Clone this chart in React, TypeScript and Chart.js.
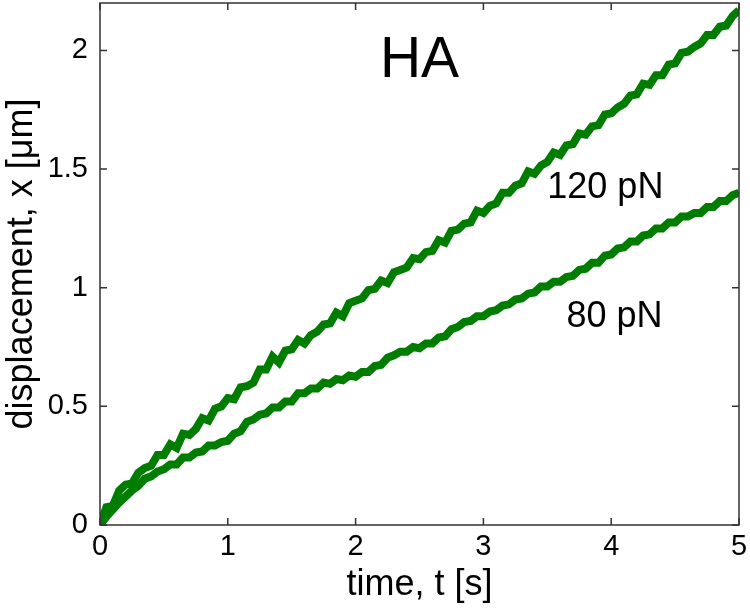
import React, { useEffect, useRef } from "react";
import { Chart, registerables } from "chart.js";

Chart.register(...registerables);

const FONT = "'Liberation Sans', Arial, Helvetica, sans-serif";

// time axis (s)
const timeS = [
  0.0, 0.05, 0.1, 0.15, 0.2, 0.25, 0.3, 0.35, 0.4, 0.45,
  0.5, 0.55, 0.6, 0.65, 0.7, 0.75, 0.8, 0.85, 0.9, 0.95,
  1.0, 1.05, 1.1, 1.15, 1.2, 1.25, 1.3, 1.35, 1.4, 1.45,
  1.5, 1.55, 1.6, 1.65, 1.7, 1.75, 1.8, 1.85, 1.9, 1.95,
  2.0, 2.05, 2.1, 2.15, 2.2, 2.25, 2.3, 2.35, 2.4, 2.45,
  2.5, 2.55, 2.6, 2.65, 2.7, 2.75, 2.8, 2.85, 2.9, 2.95,
  3.0, 3.05, 3.1, 3.15, 3.2, 3.25, 3.3, 3.35, 3.4, 3.45,
  3.5, 3.55, 3.6, 3.65, 3.7, 3.75, 3.8, 3.85, 3.9, 3.95,
  4.0, 4.05, 4.1, 4.15, 4.2, 4.25, 4.3, 4.35, 4.4, 4.45,
  4.5, 4.55, 4.6, 4.65, 4.7, 4.75, 4.8, 4.85, 4.9, 4.95,
  5.0,
];

// displacement (µm) at 120 pN
const disp120 = [
  0.0, 0.075, 0.08, 0.145, 0.17, 0.175, 0.22, 0.24, 0.25, 0.295,
  0.295, 0.34, 0.325, 0.385, 0.38, 0.405, 0.45, 0.44, 0.49, 0.5,
  0.535, 0.53, 0.58, 0.585, 0.6, 0.655, 0.655, 0.71, 0.685, 0.735,
  0.74, 0.78, 0.765, 0.8, 0.815, 0.845, 0.85, 0.895, 0.88, 0.935,
  0.945, 0.955, 0.99, 0.995, 1.03, 1.02, 1.065, 1.075, 1.085, 1.125,
  1.12, 1.15, 1.155, 1.2, 1.19, 1.24, 1.245, 1.27, 1.275, 1.325,
  1.315, 1.345, 1.355, 1.4, 1.4, 1.43, 1.44, 1.49, 1.48, 1.515,
  1.53, 1.57, 1.56, 1.6, 1.605, 1.65, 1.645, 1.68, 1.685, 1.73,
  1.735, 1.76, 1.775, 1.81, 1.815, 1.86, 1.855, 1.895, 1.895, 1.94,
  1.945, 1.99, 1.995, 2.015, 2.03, 2.065, 2.065, 2.1, 2.105, 2.145,
  2.17,
];

// displacement (µm) at 80 pN
const disp80 = [
  0.0, 0.035, 0.065, 0.095, 0.12, 0.145, 0.165, 0.195, 0.205, 0.225,
  0.235, 0.255, 0.255, 0.285, 0.285, 0.305, 0.31, 0.335, 0.335, 0.35,
  0.355, 0.385, 0.395, 0.435, 0.445, 0.465, 0.47, 0.495, 0.495, 0.52,
  0.52, 0.555, 0.555, 0.575, 0.575, 0.6, 0.595, 0.615, 0.61, 0.63,
  0.625, 0.645, 0.645, 0.67, 0.675, 0.705, 0.715, 0.73, 0.73, 0.75,
  0.745, 0.765, 0.765, 0.79, 0.795, 0.825, 0.835, 0.855, 0.86, 0.88,
  0.88, 0.9, 0.905, 0.925, 0.93, 0.95, 0.955, 0.975, 0.98, 1.005,
  1.005, 1.025, 1.025, 1.045, 1.05, 1.075, 1.08, 1.105, 1.105, 1.135,
  1.14, 1.165, 1.17, 1.195, 1.195, 1.22, 1.225, 1.25, 1.25, 1.275,
  1.275, 1.3, 1.3, 1.315, 1.315, 1.34, 1.34, 1.365, 1.365, 1.39,
  1.4,
];

const xTicks = [0, 1, 2, 3, 4, 5];
const xTickLabels = ["0", "1", "2", "3", "4", "5"];
const yTicks = [0, 0.5, 1, 1.5, 2];
const yTickLabels = ["0", "0.5", "1", "1.5", "2"];
const seriesLabels = ["120 pN", "80 pN"];
const panelTitle = "HA";

const GREEN = "rgb(0,125,0)";
const AXIS = "#333333";

const boxPlugin = {
  id: "boxTicks",
  afterDraw(chart: any) {
    const { ctx, chartArea, scales } = chart;
    const { left, right, top, bottom } = chartArea;
    const x = scales.x;
    const y = scales.y;
    ctx.save();
    ctx.strokeStyle = AXIS;
    ctx.lineWidth = 1.5;
    ctx.strokeRect(left, top, right - left, bottom - top);
    const L = 7;
    ctx.beginPath();
    xTicks.forEach((v) => {
      const px = x.getPixelForValue(v);
      ctx.moveTo(px, bottom);
      ctx.lineTo(px, bottom - L);
      ctx.moveTo(px, top);
      ctx.lineTo(px, top + L);
    });
    yTicks.forEach((v) => {
      const py = y.getPixelForValue(v);
      ctx.moveTo(left, py);
      ctx.lineTo(left + L, py);
      ctx.moveTo(right, py);
      ctx.lineTo(right - L, py);
    });
    ctx.stroke();

    ctx.fillStyle = "#000";
    ctx.textBaseline = "alphabetic";
    ctx.font = `57px ${FONT}`;
    ctx.textAlign = "center";
    ctx.fillText(panelTitle, x.getPixelForValue(2.5), y.getPixelForValue(1.89));
    ctx.font = `36px ${FONT}`;
    ctx.textAlign = "left";
    ctx.fillText(seriesLabels[0], x.getPixelForValue(3.5), y.getPixelForValue(1.377));
    ctx.fillText(seriesLabels[1], x.getPixelForValue(3.65), y.getPixelForValue(0.834));
    ctx.restore();
  },
};

export default function App() {
  const ref = useRef<HTMLCanvasElement | null>(null);

  useEffect(() => {
    if (!ref.current) return;
    const mk = (vals: number[]) => timeS.map((t, i) => ({ x: t, y: vals[i] }));
    const chart = new Chart(ref.current, {
      type: "line",
      data: {
        datasets: [
          {
            label: seriesLabels[0],
            data: mk(disp120),
            borderColor: GREEN,
            borderWidth: 8,
            pointRadius: 0,
            tension: 0,
            fill: false,
          },
          {
            label: seriesLabels[1],
            data: mk(disp80),
            borderColor: GREEN,
            borderWidth: 8,
            pointRadius: 0,
            tension: 0,
            fill: false,
          },
        ],
      },
      options: {
        animation: false,
        responsive: true,
        maintainAspectRatio: false,
        layout: { padding: { top: 3, right: 11, left: 0, bottom: 0 } },
        plugins: { legend: { display: false }, tooltip: { enabled: false } },
        scales: {
          x: {
            type: "linear",
            min: 0,
            max: 5,
            afterBuildTicks: (s: any) => {
              s.ticks = xTicks.map((v) => ({ value: v }));
            },
            afterFit: (s: any) => {
              s.height = 87;
              s.paddingLeft = 0;
              s.paddingRight = 0;
            },
            ticks: {
              autoSkip: false,
              maxRotation: 0,
              padding: 5,
              color: "#000",
              font: { family: FONT, size: 29 },
              callback: (v: any) => xTickLabels[xTicks.indexOf(Number(v))] ?? "",
            },
            grid: { display: false, drawTicks: false },
            border: { display: false },
            title: {
              display: true,
              text: "time, t [s]",
              color: "#000",
              font: { family: FONT, size: 36 },
              padding: { top: 0, bottom: 5 },
            },
          },
          y: {
            type: "linear",
            min: 0,
            max: 2.2,
            afterBuildTicks: (s: any) => {
              s.ticks = yTicks.map((v) => ({ value: v }));
            },
            afterFit: (s: any) => {
              s.width = 100;
              s.paddingTop = 0;
              s.paddingBottom = 0;
            },
            ticks: {
              autoSkip: false,
              padding: 12,
              color: "#000",
              font: { family: FONT, size: 29 },
              callback: (v: any) => yTickLabels[yTicks.indexOf(Number(v))] ?? "",
            },
            grid: { display: false, drawTicks: false },
            border: { display: false },
            title: {
              display: true,
              text: "displacement, x [μm]",
              color: "#000",
              font: { family: FONT, size: 36 },
              padding: { top: 0, bottom: 0 },
            },
          },
        },
      },
      plugins: [boxPlugin],
    } as any);
    return () => chart.destroy();
  }, []);

  return (
    <div style={{ position: "fixed", left: 0, top: 0, width: 750, height: 612, background: "#fff" }}>
      <canvas ref={ref} />
    </div>
  );
}
